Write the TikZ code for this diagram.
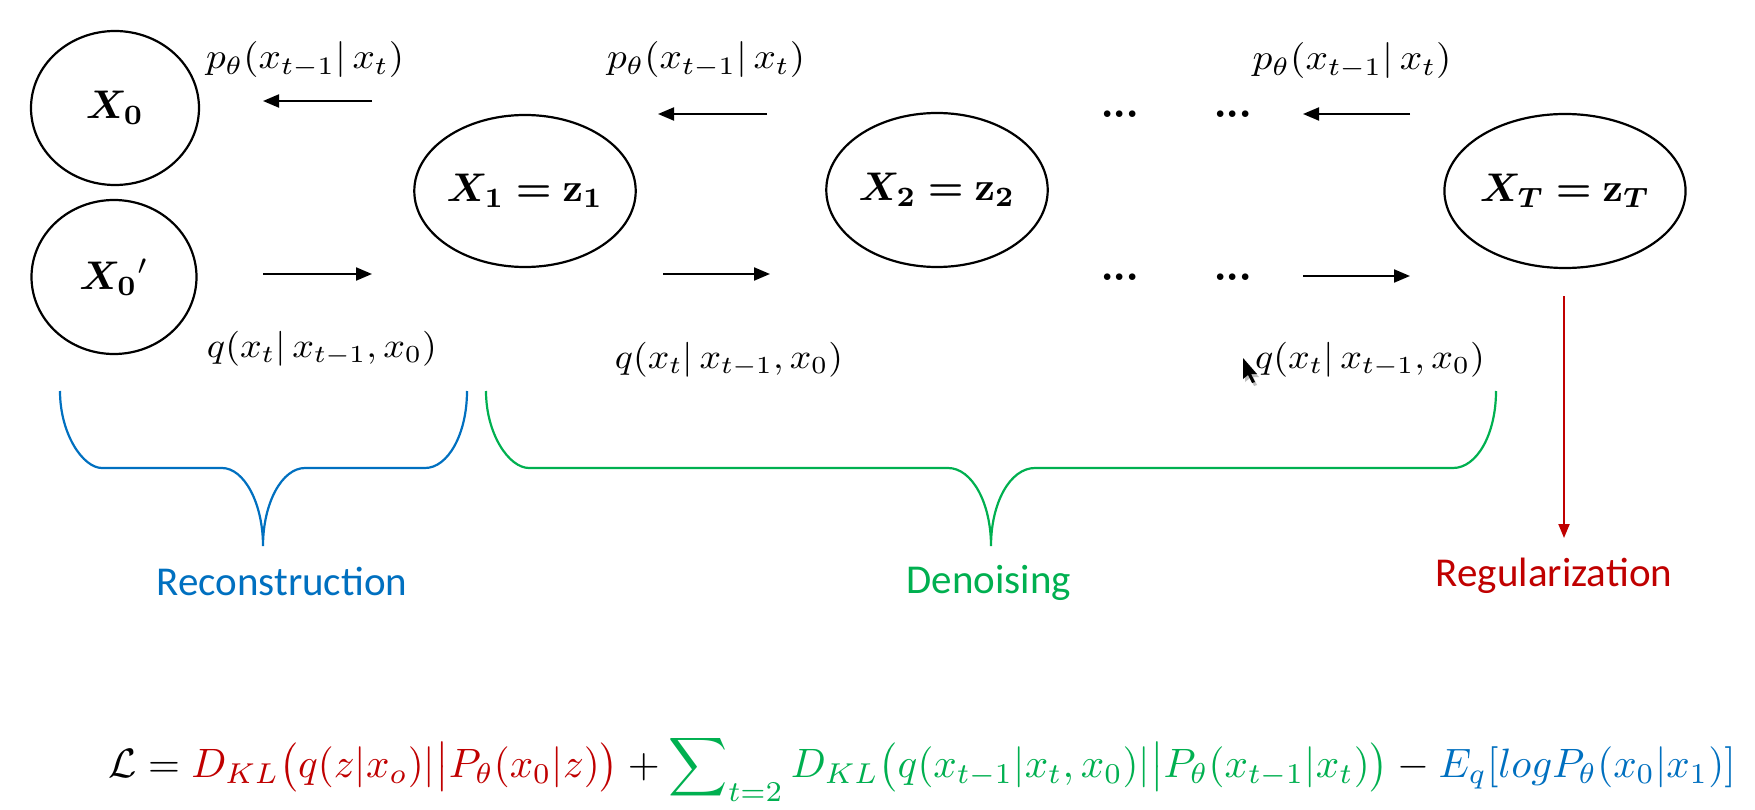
\documentclass[tikz,border=0pt]{standalone}
\usepackage{fontspec}
\usepackage{amsmath,bm,graphicx}
\usetikzlibrary{shapes.geometric,arrows.meta}
\newfontfamily\carlito{Carlito}
\definecolor{kred}{HTML}{C00000}
\definecolor{kgreen}{HTML}{00B050}
\definecolor{kblue}{HTML}{0070C0}
\newcommand{\statelabel}[1]{\scalebox{4}{$#1$}}
\newcommand{\heavydots}{.\kern-2pt.\kern-2pt.}
\begin{document}
\begin{tikzpicture}[x=1pt,y=-1pt,
  state/.style={draw, ellipse, line width=2.2pt, inner sep=0pt},
  flow/.style={line width=2pt, -{Triangle[length=16pt,width=13pt]}},
  lab/.style={inner sep=0pt},
  dotsnode/.style={inner sep=0pt, anchor=base, font=\fontsize{46}{50}\selectfont\bfseries},
  bracepath/.style={line width=2.2pt},
  sanslabel/.style={inner sep=0pt, anchor=base, font=\fontsize{41}{48}\selectfont\carlito}
]
\useasboundingbox (0,0) rectangle (1755,810);
\fill[white] (0,0) rectangle (1755,810);

% states
\node[state, minimum width=168pt, minimum height=154pt] (x0) at (115,108) {\statelabel{\bm{X_0}}};
\node[state, minimum width=165pt, minimum height=154pt] (x0p) at (114,277) {\statelabel{{\bm{X_0}}{}'}};
\node[state, minimum width=214pt, minimum height=152pt] (x1) at (525,191) {\statelabel{\bm{X_1 = \mathbf{z}_1}}};
\node[state, minimum width=210pt, minimum height=154pt] (x2) at (937,190) {\statelabel{\bm{X_2 = \mathbf{z}_2}}};
\node[state, minimum width=214pt, minimum height=154pt] (xT) at (1565,191) {\statelabel{\bm{X_T = \mathbf{z}_T}}};

% labels
\node[lab] (p1) at (305,60) {\resizebox*{198pt}{36pt}{$p_\theta(x_{t-1}|\,x_t)$}};
\node[lab] (p2) at (706,60) {\resizebox*{198pt}{36pt}{$p_\theta(x_{t-1}|\,x_t)$}};
\node[lab] (p3) at (1352,61) {\resizebox*{199pt}{36pt}{$p_\theta(x_{t-1}|\,x_t)$}};
\node[lab] (q1) at (322,349) {\resizebox*{230pt}{35pt}{$q(x_t|\,x_{t-1},x_0)$}};
\node[lab] (q2) at (729,360) {\resizebox*{228pt}{35pt}{$q(x_t|\,x_{t-1},x_0)$}};
\node[lab] (q3) at (1370,360) {\resizebox*{230pt}{35pt}{$q(x_t|\,x_{t-1},x_0)$}};

% arrows
\coordinate (a1s) at (372,101); \coordinate (a1e) at (263,101);
\coordinate (b1s) at (263,274); \coordinate (b1e) at (372,274);
\coordinate (a2s) at (767,114); \coordinate (a2e) at (658,114);
\coordinate (b2s) at (663,274); \coordinate (b2e) at (770,274);
\coordinate (a3s) at (1410,114); \coordinate (a3e) at (1303,114);
\coordinate (b3s) at (1303,276); \coordinate (b3e) at (1410,276);
\draw[flow] (a1s) -- (a1e);
\draw[flow] (b1s) -- (b1e);
\draw[flow] (a2s) -- (a2e);
\draw[flow] (b2s) -- (b2e);
\draw[flow] (a3s) -- (a3e);
\draw[flow] (b3s) -- (b3e);

% dots
\node[dotsnode] (d1) at (1120,118) {\heavydots};
\node[dotsnode] (d2) at (1233,118) {\heavydots};
\node[dotsnode] (d3) at (1120,280) {\heavydots};
\node[dotsnode] (d4) at (1233,280) {\heavydots};

% cursor
\fill[black!25] (1245,361) -- (1245,382) -- (1250,378) -- (1254,386) -- (1257,385) -- (1253,377) -- (1259,377) -- cycle;
\fill[black] (1243,358) -- (1243,379) -- (1248,375) -- (1252,383) -- (1255,382) -- (1251,374) -- (1257,374) -- cycle;

% braces
\draw[bracepath, kblue] (60,391) .. controls (60,434) and (83,468) .. (102,468) -- (222,468)
  .. controls (244,468) and (263,503) .. (263,546)
  .. controls (263,503) and (282,468) .. (305,468) -- (425,468)
  .. controls (448,468) and (467,434) .. (467,391);
\draw[bracepath, kgreen] (486,391) .. controls (486,434) and (509,468) .. (529,468) -- (948,468)
  .. controls (972,468) and (991,503) .. (991,546)
  .. controls (991,503) and (1010,468) .. (1035,468) -- (1453,468)
  .. controls (1477,468) and (1496,434) .. (1496,391);

% regularization arrow
\coordinate (rs) at (1564,296); \coordinate (re) at (1564,538);
\draw[kred, line width=2pt, -{Triangle[length=14pt,width=11pt]}] (rs) -- (re);

% section labels
\node[sanslabel, text=kblue] (rec) at (282,595) {Reconstruction};
\node[sanslabel, text=kgreen] (den) at (989,593) {Denoising};
\node[sanslabel, text=kred] (reg) at (1554,586) {Regularization};

% loss
\node[lab] (loss) at (922,768) {\resizebox{1627pt}{!}{$\mathcal{L} = \textcolor{kred}{D_{KL}\big(q(z|x_o)|\big|P_\theta(x_0|z)\big)} + \textcolor{kgreen}{\displaystyle\sum\nolimits_{t=2} D_{KL}\big(q(x_{t-1}|x_t,x_0)|\big|P_\theta(x_{t-1}|x_t)\big)} - \textcolor{kblue}{E_q[logP_\theta(x_0|x_1)]}$}};
\end{tikzpicture}
\end{document}
